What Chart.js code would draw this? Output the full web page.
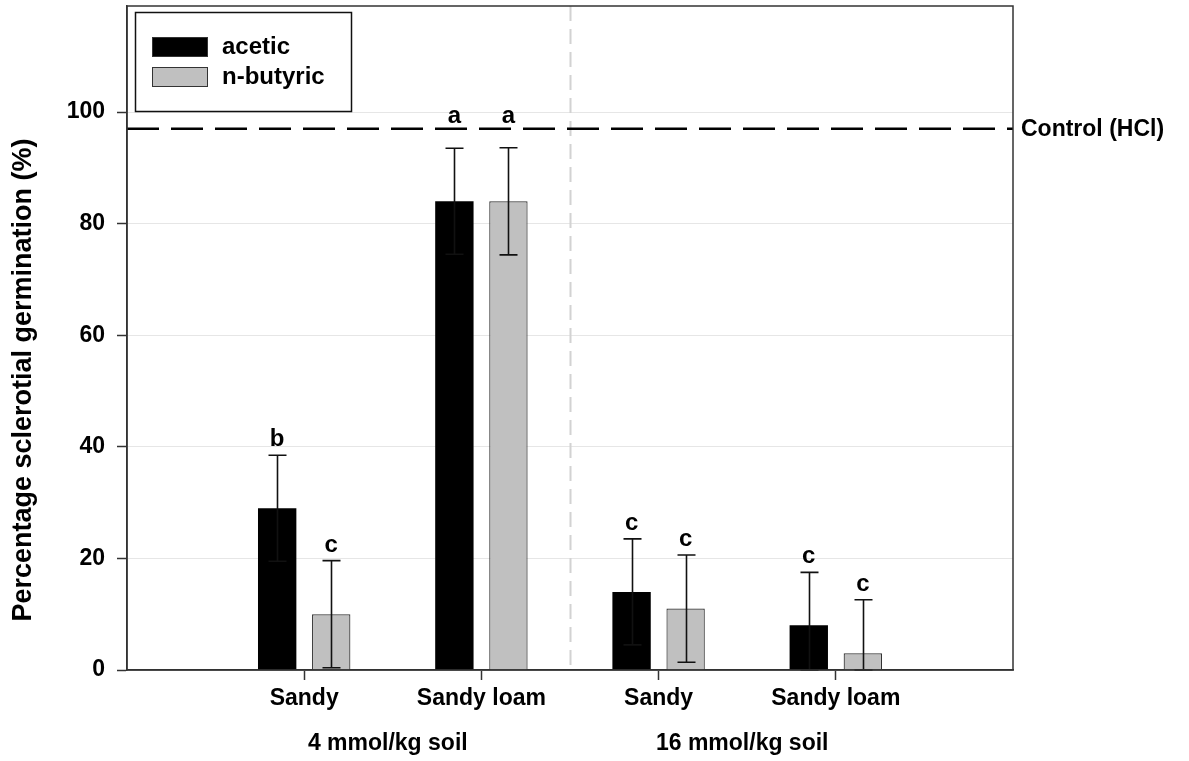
<!DOCTYPE html>
<html><head><meta charset="utf-8">
<script src="https://cdn.jsdelivr.net/npm/chart.js@4.4.0/dist/chart.umd.min.js"></script>
<style>html,body{margin:0;padding:0;background:#fff;overflow:hidden;}</style>
</head><body>
<canvas id="c" width="1189" height="761"></canvas>
<script>
// ---- data ----
const categories = ['', 'Sandy', 'Sandy loam', 'Sandy', 'Sandy loam', ''];
const groupLabels = ['4 mmol/kg soil', '16 mmol/kg soil'];
const groupCenters = [1.5, 3.5];
const seriesNames = ['acetic', 'n-butyric'];
const aceticValues = [null, 29, 84, 14, 8, null];
const aceticErrors = [null, 9.5, 9.5, 9.5, 9.5, null];
const butyricValues = [null, 10, 84, 11, 3, null];
const butyricErrors = [null, 9.6, 9.6, 9.6, 9.6, null];
const aceticLetters = ['', 'b', 'a', 'c', 'c', ''];
const butyricLetters = ['', 'c', 'a', 'c', 'c', ''];
const controlValue = 97;
const controlLabel = 'Control (HCl)';
const yTicks = [0, 20, 40, 60, 80, 100];
const yMin = 0, yMax = 119;
const separatorAt = 2.5;
const yTitle = 'Percentage sclerotial germination (%)';

const FONT = "'Liberation Sans', Arial, Helvetica, sans-serif";
const errs = [aceticErrors, butyricErrors];
const letters = [aceticLetters, butyricLetters];

const extras = {
  id: 'extras',
  beforeDatasetsDraw(chart) {
    const ctx = chart.ctx, x = chart.scales.x, a = chart.chartArea;
    const sx = Math.round(x.getPixelForValue(separatorAt)) + 0.5;
    ctx.save();
    ctx.strokeStyle = '#d2d2d2'; ctx.lineWidth = 2; ctx.setLineDash([15, 8]);
    ctx.beginPath(); ctx.moveTo(sx, a.top); ctx.lineTo(sx, a.bottom); ctx.stroke();
    ctx.restore();
  },
  afterDatasetsDraw(chart) {
    const ctx = chart.ctx, y = chart.scales.y, x = chart.scales.x, a = chart.chartArea;
    const ctrlPx = y.getPixelForValue(controlValue);
    ctx.save();
    // error bars & letters
    [0, 1].forEach(di => {
      const meta = chart.getDatasetMeta(di);
      const vals = chart.data.datasets[di].data;
      meta.data.forEach((bar, j) => {
        const v = vals[j], e = errs[di][j];
        if (v == null) return;
        const bx = Math.round(bar.x) + 0.5;
        const top = y.getPixelForValue(v + e), bot = y.getPixelForValue(Math.max(0, v - e));
        ctx.strokeStyle = '#111'; ctx.lineWidth = 1.6; ctx.setLineDash([]);
        ctx.beginPath();
        ctx.moveTo(bx, top); ctx.lineTo(bx, bot);
        ctx.moveTo(bx - 9, top); ctx.lineTo(bx + 9, top);
        ctx.moveTo(bx - 9, bot); ctx.lineTo(bx + 9, bot);
        ctx.stroke();
        const L = letters[di][j];
        if (L) {
          let base = top - 9;
          if (base - 20 < ctrlPx + 2) base = ctrlPx - 6;
          ctx.fillStyle = '#000'; ctx.font = 'bold 24px ' + FONT;
          ctx.textAlign = 'center'; ctx.textBaseline = 'alphabetic';
          ctx.fillText(L, bar.x, base);
        }
      });
    });
    // frame
    ctx.strokeStyle = '#333'; ctx.lineWidth = 1.5;
    ctx.strokeRect(a.left, a.top, a.right - a.left, a.bottom - a.top);
    // legend
    ctx.fillStyle = '#fff';
    ctx.fillRect(135, 12, 216, 99);
    ctx.strokeStyle = '#111'; ctx.lineWidth = 1.5;
    ctx.strokeRect(135.5, 12.5, 216, 99);
    [0, 1].forEach(di => {
      const ds = chart.data.datasets[di];
      const yy = 37 + di * 30;
      ctx.fillStyle = ds.backgroundColor; ctx.fillRect(152, yy, 56, 20);
      ctx.strokeStyle = '#333'; ctx.lineWidth = 1; ctx.strokeRect(152.5, yy + 0.5, 55, 19);
      ctx.fillStyle = '#000'; ctx.font = 'bold 24px ' + FONT;
      ctx.textAlign = 'left'; ctx.textBaseline = 'middle';
      ctx.fillText(ds.label, 222, yy + 10);
    });
    // control label
    ctx.fillStyle = '#000'; ctx.font = 'bold 23px ' + FONT;
    ctx.textAlign = 'left'; ctx.textBaseline = 'middle';
    ctx.fillText(controlLabel, a.right + 8, ctrlPx + 1);
    // group labels
    ctx.textAlign = 'center';
    groupLabels.forEach((g, i) => ctx.fillText(g, x.getPixelForValue(groupCenters[i]) - 5, 744));
    // y title
    ctx.translate(24, 380); ctx.rotate(-Math.PI / 2);
    ctx.font = 'bold 27px ' + FONT; ctx.textAlign = 'center'; ctx.textBaseline = 'middle';
    ctx.fillText(yTitle, 0, 0);
    ctx.restore();
  }
};

new Chart(document.getElementById('c'), {
  type: 'bar',
  data: {
    labels: categories,
    datasets: [
      { label: seriesNames[0], data: aceticValues, backgroundColor: '#000000', borderColor: '#000000', borderWidth: 0,
        categoryPercentage: 0.61, barPercentage: 0.71, order: 2 },
      { label: seriesNames[1], data: butyricValues, backgroundColor: '#c0c0c0', borderColor: '#333333', borderWidth: 1.2,
        categoryPercentage: 0.61, barPercentage: 0.71, order: 2 },
      { type: 'line', label: controlLabel, data: categories.map(() => controlValue), borderColor: '#000',
        borderWidth: 2.5, borderDash: [32, 12], pointRadius: 0, fill: false, order: 1 }
    ]
  },
  options: {
    responsive: false, animation: false, devicePixelRatio: 1,
    layout: { padding: { top: 6, right: 176, left: 0, bottom: 0 } },
    plugins: { legend: { display: false }, tooltip: { enabled: false }, title: { display: false } },
    scales: {
      x: {
        type: 'category', offset: false,
        grid: { offset: false, drawOnChartArea: false, tickLength: 10, tickWidth: 1.5,
          tickColor: c => (categories[c.index] ? '#333' : 'rgba(0,0,0,0)') },
        border: { display: true, color: '#333', width: 1.5 },
        ticks: { autoSkip: false, maxRotation: 0, padding: 5, color: '#000', font: { family: FONT, size: 23, weight: 'bold' } },
        afterFit: s => { s.height = 91; s.paddingLeft = 0; s.paddingRight = 0; }
      },
      y: {
        min: yMin, max: yMax,
        afterBuildTicks: s => { s.ticks = yTicks.map(v => ({ value: v })); },
        grid: { color: '#e6e6e6', lineWidth: 1, tickLength: 10, tickColor: '#333', tickWidth: 1.5 },
        border: { display: true, color: '#333', width: 1.5 },
        ticks: { padding: 12, color: '#000', font: { family: FONT, size: 23, weight: 'bold' } },
        afterFit: s => { s.width = 127; s.paddingTop = 0; s.paddingBottom = 0; }
      }
    }
  },
  plugins: [extras]
});
</script>
</body></html>
